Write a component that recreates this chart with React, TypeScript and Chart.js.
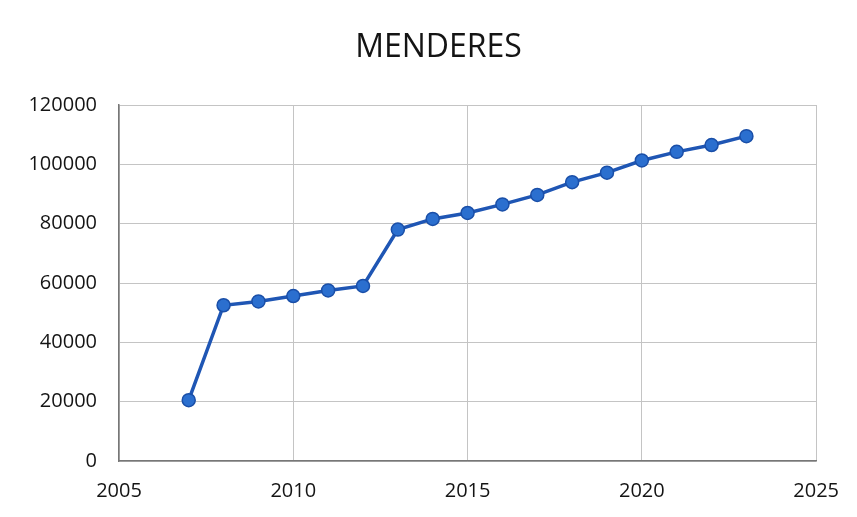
import React, { useEffect, useRef } from "react";
import { Chart, registerables } from "chart.js";

Chart.register(...registerables);

const chartTitle = "MENDERES";
const years = [2007, 2008, 2009, 2010, 2011, 2012, 2013, 2014, 2015, 2016, 2017, 2018, 2019, 2020, 2021, 2022, 2023];
const population = [20500, 52500, 53800, 55600, 57500, 59000, 78000, 81600, 83600, 86500, 89700, 94000, 97200, 101300, 104200, 106500, 109500];
const xTicks = [2005, 2010, 2015, 2020, 2025];
const yTicks = [0, 20000, 40000, 60000, 80000, 100000, 120000];

const FONT = "'Open Sans', 'Noto Sans', sans-serif";

const titlePlugin = {
  id: "centeredTitle",
  afterDraw(chart: any) {
    const ctx = chart.ctx;
    ctx.save();
    ctx.fillStyle = "#141414";
    ctx.font = `32px ${FONT}`;
    ctx.textAlign = "center";
    ctx.textBaseline = "middle";
    ctx.fillText(chartTitle, chart.width / 2 + 10, 48);
    ctx.restore();
  },
};

export default function App() {
  const ref = useRef<HTMLCanvasElement | null>(null);

  useEffect(() => {
    document.body.style.margin = "0";
    const canvas = ref.current;
    if (!canvas) return;
    const chart = new Chart(canvas, {
      type: "line",
      data: {
        datasets: [
          {
            label: chartTitle,
            data: years.map((y, i) => ({ x: y, y: population[i] })),
            borderColor: "#1f56b4",
            borderWidth: 3.5,
            backgroundColor: "#2b6fcf",
            pointBackgroundColor: "#2b6fcf",
            pointBorderColor: "#1a4fa8",
            pointBorderWidth: 1.5,
            pointRadius: 6.5,
            tension: 0,
          },
        ],
      },
      plugins: [titlePlugin],
      options: {
        animation: false,
        responsive: false,
        layout: { padding: { left: 0, right: 40, top: 105, bottom: 0 } },
        plugins: {
          legend: { display: false },
          tooltip: { enabled: false },
          title: { display: false },
        },
        scales: {
          x: {
            type: "linear",
            min: xTicks[0],
            max: xTicks[xTicks.length - 1],
            afterBuildTicks: (scale: any) => {
              scale.ticks = xTicks.map((v) => ({ value: v }));
            },
            afterFit: (scale: any) => {
              scale.height = 56;
            },
            ticks: {
              color: "#141414",
              font: { family: FONT, size: 20 },
              padding: 18,
              callback: (v: any) => String(v),
              maxRotation: 0,
            },
            grid: { color: "#c4c4c4", drawTicks: false, lineWidth: 1 },
            border: { color: "#777", width: 1.5 },
          },
          y: {
            min: yTicks[0],
            max: yTicks[yTicks.length - 1],
            afterBuildTicks: (scale: any) => {
              scale.ticks = yTicks.map((v) => ({ value: v }));
            },
            afterFit: (scale: any) => {
              scale.width = 119;
            },
            ticks: {
              color: "#141414",
              font: { family: FONT, size: 20 },
              padding: 22,
              callback: (v: any) => String(v),
            },
            grid: { color: "#c4c4c4", drawTicks: false, lineWidth: 1 },
            border: { color: "#777", width: 1.5 },
          },
        },
      },
    });
    return () => chart.destroy();
  }, []);

  return <canvas ref={ref} width={857} height={517} style={{ display: "block" }} />;
}
